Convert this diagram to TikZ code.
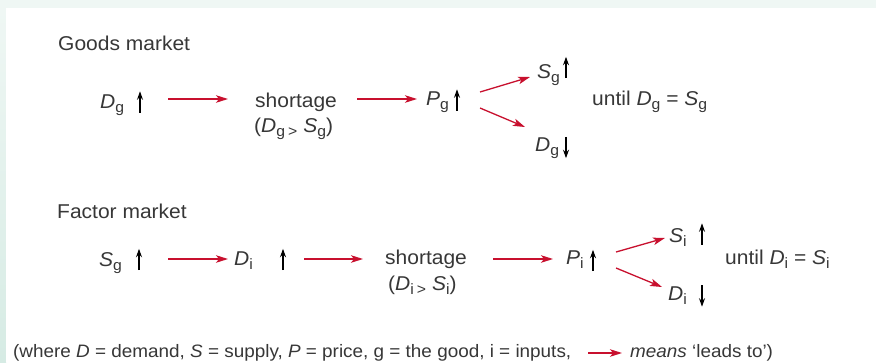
\documentclass[tikz,border=0pt]{standalone}
\usepackage{fontspec}
\setmainfont[FakeStretch=1.05]{Liberation Sans}
\usepackage{xcolor}
\usetikzlibrary{arrows.meta}
\definecolor{leadred}{RGB}{200,16,46}
\definecolor{txtgray}{RGB}{55,55,55}
\definecolor{bgtop}{RGB}{239,247,244}
\definecolor{bgleft}{RGB}{214,235,228}
\newcommand{\mainfs}{\fontsize{20}{24}\selectfont}
\newcommand{\subfs}{\fontsize{15}{15}\selectfont}
\newcommand{\notefs}{\fontsize{18}{22}\selectfont}
\newcommand{\mvar}[2]{\textit{#1}\raisebox{-4.5pt}{\subfs #2}}
\newcommand{\lowgt}{\raisebox{-4.5pt}{\subfs >}}
\tikzset{
  lbl/.style={inner sep=0pt, anchor=base west, font=\mainfs, text=txtgray},
  note/.style={lbl, font=\notefs},
  sym/.style={inner sep=0pt, minimum width=0pt, minimum height=21pt},
  updn/.style={line width=1.4pt, -{Stealth[length=8.5pt, width=6pt]}},
  lead/.style={draw=leadred, line width=1.3pt, -{Stealth[length=12pt, width=7.5pt, inset=3pt]}}
}

\begin{document}
\begin{tikzpicture}[x=1pt, y=-1pt]
  \useasboundingbox (0,0) rectangle (876,362);
  % page background
  \fill[bgtop] (0,0) rectangle (876,8);
  \shade[top color=bgtop, bottom color=bgleft] (0,8) rectangle (6,362);
  \fill[white] (6,8) rectangle (876,362);

  % goods market
  \node[lbl] (goods) at (58,50) {Goods market};
  \coordinate (rowG) at (0,99);
  \node[lbl] (dgA) at (100,108) {\mvar{D}{g}};
  \node[sym] (upDgA) at (140,102) {};
  \node[lbl] (shortG) at (255,107) {shortage};
  \node[lbl] (condG) at (254,132) {(\mvar{D}{g}\hspace{3pt}\lowgt\hspace{6pt}\mvar{S}{g})};
  \node[lbl] (pG) at (426,105) {\mvar{P}{g}};
  \node[sym] (upPg) at (457,100) {};
  \node[lbl] (sgU) at (537,78) {\mvar{S}{g}};
  \node[sym] (upSgU) at (566,67.5) {};
  \node[lbl] (dgD) at (535,151) {\mvar{D}{g}};
  \node[sym] (dnDgD) at (566,147.5) {};
  \node[lbl] (untilG) at (592,105) {until \mvar{D}{g} = \mvar{S}{g}};

  \draw[updn] (upDgA.south) -- (upDgA.north);
  \draw[updn] (upPg.south) -- (upPg.north);
  \draw[updn] (upSgU.south) -- (upSgU.north);
  \draw[updn] (dnDgD.north) -- (dnDgD.south);
  \draw[lead, shorten <=28pt, shorten >=27pt] (upDgA |- rowG) -- (shortG.west |- rowG);
  \draw[lead, shorten <=20pt, shorten >=9pt] (shortG.east |- rowG) -- (pG.west |- rowG);
  \draw[lead] ([xshift=23pt, yshift=8pt]upPg.center) -- ([xshift=-7pt, yshift=1pt]sgU.base west);
  \draw[lead] ([xshift=23pt, yshift=-8pt]upPg.center) -- ([xshift=-10pt, yshift=24pt]dgD.base west);

  % factor market
  \node[lbl] (factor) at (57,218) {Factor market};
  \coordinate (rowF) at (0,259);
  \node[lbl] (sgF) at (99,266) {\mvar{S}{g}};
  \node[sym] (upSgF) at (139,259.5) {};
  \node[lbl] (diF) at (234,265) {\mvar{D}{i}};
  \node[sym] (upDiF) at (283,259.5) {};
  \node[lbl] (shortF) at (385,264) {shortage};
  \node[lbl] (condF) at (388,290) {(\mvar{D}{i}\hspace{3pt}\lowgt\hspace{6pt}\mvar{S}{i})};
  \node[lbl] (pI) at (566,264) {\mvar{P}{i}};
  \node[sym] (upPi) at (593,260.5) {};
  \node[lbl] (siU) at (669,242) {\mvar{S}{i}};
  \node[sym] (upSiU) at (702,234) {};
  \node[lbl] (diD) at (668,300) {\mvar{D}{i}};
  \node[sym] (dnDiD) at (702,296) {};
  \node[lbl] (untilF) at (725,264) {until \mvar{D}{i} = \mvar{S}{i}};

  \draw[updn] (upSgF.south) -- (upSgF.north);
  \draw[updn] (upDiF.south) -- (upDiF.north);
  \draw[updn] (upPi.south) -- (upPi.north);
  \draw[updn] (upSiU.south) -- (upSiU.north);
  \draw[updn] (dnDiD.north) -- (dnDiD.south);
  \draw[lead, shorten <=29pt, shorten >=6pt] (upSgF |- rowF) -- (diF.west |- rowF);
  \draw[lead, shorten <=21pt, shorten >=22pt] (upDiF |- rowF) -- (shortF.west |- rowF);
  \draw[lead, shorten <=26pt, shorten >=13pt] (shortF.east |- rowF) -- (pI.west |- rowF);
  \draw[lead] ([xshift=23pt, yshift=8.5pt]upPi.center) -- ([xshift=-4pt, yshift=4pt]siU.base west);
  \draw[lead] ([xshift=23pt, yshift=-7.5pt]upPi.center) -- ([xshift=-6pt, yshift=13pt]diD.base west);

  % key
  \coordinate (rowN) at (0,353);
  \node[note] (noteL) at (13,357) {(where \textit{D} = demand, \textit{S} = supply, \textit{P} = price, g = the good, i = inputs,};
  \node[note] (noteR) at (630,357) {\textit{means} ‘leads to’)};
  \draw[lead, shorten <=17pt, shorten >=8pt] (noteL.east |- rowN) -- (noteR.west |- rowN);
\end{tikzpicture}
\end{document}
